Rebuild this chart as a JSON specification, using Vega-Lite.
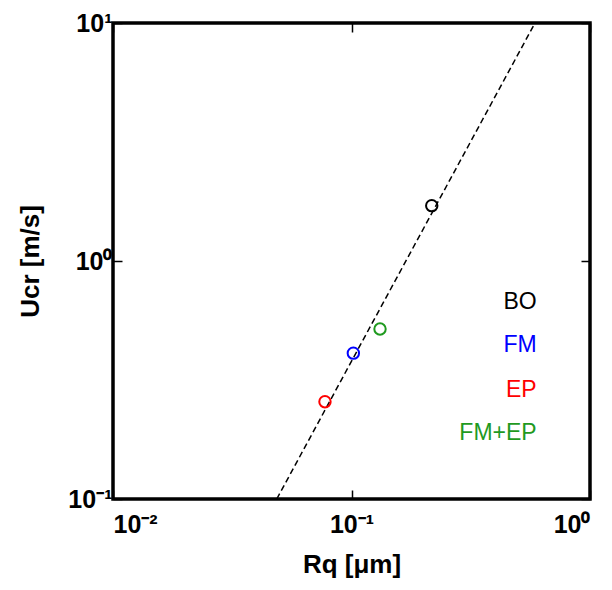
{
  "$schema": "https://vega.github.io/schema/vega-lite/v6.json",
  "width": 477,
  "height": 476,
  "autosize": "none",
  "padding": {"left": 113, "top": 23, "right": 22, "bottom": 91},
  "background": "white",
  "config": {
    "view": {"stroke": "black", "strokeWidth": 3.5},
    "axis": {
      "domain": false,
      "grid": false,
      "ticks": true,
      "tickColor": "black",
      "tickWidth": 1.5,
      "tickSize": -9,
      "labelFont": "Liberation Sans",
      "labelFontSize": 25,
      "labelFontWeight": "bold",
      "labelColor": "black",
      "titleFont": "Liberation Sans",
      "titleFontSize": 26,
      "titleFontWeight": "bold",
      "titleColor": "black"
    }
  },
  "datasets": {
    "fit": [
      {"rq": 0.0486, "u": 0.1},
      {"rq": 0.588, "u": 10}
    ],
    "measured": [
      {"finish": "BO", "rq": 0.217, "u": 1.708},
      {"finish": "FM+EP", "rq": 0.1317, "u": 0.518},
      {"finish": "FM", "rq": 0.1018, "u": 0.41},
      {"finish": "EP", "rq": 0.0774, "u": 0.2564}
    ],
    "keys": [
      {"finish": "BO", "rq": 0.5976, "u": 0.675},
      {"finish": "FM", "rq": 0.5976, "u": 0.444},
      {"finish": "EP", "rq": 0.5976, "u": 0.287},
      {"finish": "FM+EP", "rq": 0.5976, "u": 0.189}
    ]
  },
  "layer": [
    {
      "data": {"name": "fit"},
      "mark": {"type": "line", "color": "black", "strokeWidth": 1.5, "strokeDash": [6, 3.5]},
      "encoding": {
        "x": {
          "field": "rq", "type": "quantitative",
          "scale": {"type": "log", "domain": [0.01, 1], "nice": false},
          "axis": {
            "orient": "bottom",
            "values": [0.01, 0.1, 1],
            "labelExpr": "datum.value < 0.05 ? '10⁻²' : datum.value < 0.5 ? '10⁻¹' : '10⁰'",
            "labelPadding": 22,
            "title": "Rq [μm]",
            "titlePadding": 14
          }
        },
        "y": {
          "field": "u", "type": "quantitative",
          "scale": {"type": "log", "domain": [0.1, 10], "nice": false},
          "axis": {
            "orient": "left",
            "values": [0.1, 1, 10],
            "labelExpr": "datum.value < 0.5 ? '10⁻¹' : datum.value < 5 ? '10⁰' : '10¹'",
            "labelPadding": 10,
            "title": "Ucr [m/s]",
            "titlePadding": 24
          }
        }
      }
    },
    {
      "data": {"name": "measured"},
      "mark": {"type": "point", "shape": "circle", "filled": false, "size": 130, "strokeWidth": 2, "opacity": 1},
      "encoding": {
        "x": {"field": "rq", "type": "quantitative", "axis": null},
        "y": {"field": "u", "type": "quantitative", "axis": null},
        "color": {
          "field": "finish", "type": "nominal",
          "scale": {"domain": ["BO", "FM", "EP", "FM+EP"], "range": ["#000000", "#0000ff", "#ff0000", "#1f9a1f"]},
          "legend": null
        }
      }
    },
    {
      "data": {"name": "keys"},
      "mark": {"type": "text", "align": "right", "baseline": "middle", "font": "Liberation Sans", "fontSize": 23},
      "encoding": {
        "x": {
          "field": "rq", "type": "quantitative",
          "axis": {"orient": "top", "values": [0.01, 0.1, 1], "labels": false, "title": null}
        },
        "y": {
          "field": "u", "type": "quantitative",
          "axis": {"orient": "right", "values": [0.1, 1, 10], "labels": false, "title": null}
        },
        "text": {"field": "finish"},
        "color": {"field": "finish", "type": "nominal", "legend": null}
      }
    }
  ],
  "resolve": {"axis": {"x": "independent", "y": "independent"}}
}
